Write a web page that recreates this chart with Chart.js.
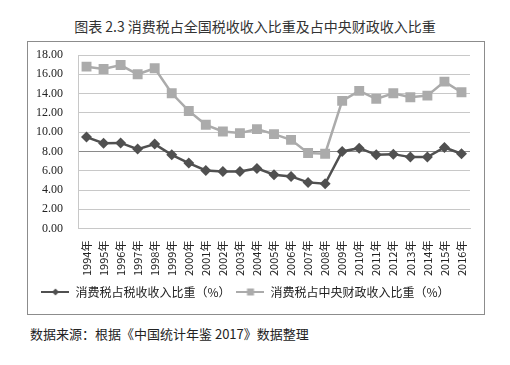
<!DOCTYPE html>
<html>
<head>
<meta charset="utf-8">
<script src="https://cdn.jsdelivr.net/npm/chart.js@4.4.1/dist/chart.umd.min.js"></script>
<style>
  body { margin: 0; background: #fff; width: 510px; height: 365px; position: relative; overflow: hidden; }
  #title { position: absolute; top: 16px; left: 0; width: 510px; text-align: center;
    font: 14px "Noto Sans CJK SC"; color: #333; }
  #box { position: absolute; left: 27px; top: 41px; width: 456px; height: 272px; border: 1px solid #8c8c8c; }
  #box canvas { display: block; }
  #source { position: absolute; left: 30px; top: 324px; font: 13px "Noto Sans CJK SC"; color: #222; }
</style>
</head>
<body>
<div id="title">图表 2.3 消费税占全国税收收入比重及占中央财政收入比重</div>
<div id="box"><canvas id="myChart" width="456" height="272"></canvas></div>
<div id="source">数据来源：根据《中国统计年鉴 2017》数据整理</div>
<script>
const years = ["1994年", "1995年", "1996年", "1997年", "1998年", "1999年", "2000年", "2001年",
  "2002年", "2003年", "2004年", "2005年", "2006年", "2007年", "2008年", "2009年", "2010年",
  "2011年", "2012年", "2013年", "2014年", "2015年", "2016年"];
const taxShare = [9.49, 8.86, 8.88, 8.24, 8.76, 7.65, 6.79, 6.03, 5.93, 5.93, 6.24, 5.59,
  5.41, 4.79, 4.65, 8.00, 8.34, 7.65, 7.72, 7.41, 7.41, 8.41, 7.76];
const centralShare = [16.79, 16.55, 16.96, 16.00, 16.62, 14.03, 12.20, 10.76, 10.07, 9.90,
  10.31, 9.79, 9.20, 7.83, 7.76, 13.24, 14.28, 13.45, 14.03, 13.62, 13.79, 15.24, 14.14];
const seriesNames = ["消费税占税收收入比重（%）", "消费税占中央财政收入比重（%）"];

const darkColor = "#505050";
const lightColor = "#ababab";

// little line+marker pictures for the legend
function legendIcon(color, style) {
  const c = document.createElement("canvas");
  c.width = 28;
  c.height = 10;
  const g = c.getContext("2d");
  g.strokeStyle = color;
  g.lineWidth = 2;
  g.beginPath();
  g.moveTo(0, 5);
  g.lineTo(28, 5);
  g.stroke();
  g.fillStyle = color;
  g.beginPath();
  if (style === "diamond") {
    g.moveTo(14, 1.5); g.lineTo(17.5, 5); g.lineTo(14, 8.5); g.lineTo(10.5, 5);
  } else {
    g.rect(10.5, 1.5, 7, 7);
  }
  g.fill();
  return c;
}
const icons = [legendIcon(darkColor, "diamond"), legendIcon(lightColor, "square")];

const ctx = document.getElementById("myChart");

const data = {
  labels: years,
  datasets: [
    {
      label: seriesNames[0],
      data: taxShare,
      borderColor: darkColor,
      backgroundColor: darkColor,
      borderWidth: 2.5,
      pointStyle: "rectRot",
      pointRadius: 5.5,
      pointBorderWidth: 0,
    },
    {
      label: seriesNames[1],
      data: centralShare,
      borderColor: lightColor,
      backgroundColor: lightColor,
      borderWidth: 2.5,
      pointStyle: "rect",
      pointRadius: 7,
      pointBorderWidth: 0,
    },
  ],
};

const config = {
  type: "line",
  data,
  options: {
    responsive: false,
    animation: false,
    layout: { padding: { left: -7, right: 14, top: 13, bottom: 6 } },
    scales: {
      y: {
        min: 0,
        max: 18,
        afterFit: (s) => {
          // tick padding otherwise also pushes the plot down
          s.paddingTop = 7;
          s.paddingBottom = 7;
        },
        ticks: {
          stepSize: 2,
          padding: 15,
          color: "#222",
          font: { family: "Liberation Serif", size: 12 },
          callback: (v) => v.toFixed(2),
        },
        grid: {
          drawTicks: false,
          color: (c) => (c.tick && c.tick.value === 8 ? "#8a8a8a" : "#c8c8c8"),
        },
        border: { color: "#c8c8c8" },
      },
      x: {
        offset: true,
        ticks: {
          minRotation: 90,
          maxRotation: 90,
          autoSkip: false,
          padding: 4,
          color: "#222",
          font: { family: "Noto Sans CJK SC", size: 11 },
        },
        grid: { display: false },
        border: { color: "#c8c8c8" },
      },
    },
    plugins: {
      legend: {
        position: "bottom",
        labels: {
          usePointStyle: true,
          pointStyleWidth: 28,
          color: "#222",
          padding: 6,
          font: { family: "Noto Sans CJK SC", size: 12 },
          generateLabels: (chart) =>
            chart.data.datasets.map((ds, i) => ({
              text: ds.label,
              pointStyle: icons[i],
              fillStyle: ds.borderColor,
              strokeStyle: ds.borderColor,
              lineWidth: 0,
              datasetIndex: i,
              fontColor: "#222",
            })),
        },
      },
      tooltip: { enabled: false },
    },
  },
};

let myChart = new Chart(ctx, config);
</script>
</body>
</html>
